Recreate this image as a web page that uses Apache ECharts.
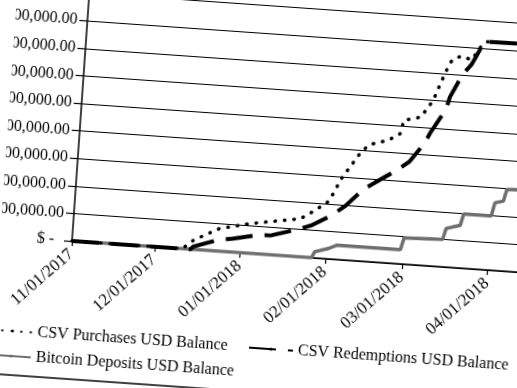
<!DOCTYPE html>
<html><head><meta charset="utf-8">
<script src="https://cdn.jsdelivr.net/npm/echarts@6/dist/echarts.min.js"></script>
<style>
html,body{margin:0;padding:0;width:517px;height:388px;overflow:hidden;background:#fff;}
#chart{position:absolute;left:0;top:-60px;width:700px;height:520px;transform-origin:72px 301px;transform:rotate(4deg);}
</style></head><body><div id="chart"></div>
<script>
// Values in millions of USD
const purchaseDates = ['2017-11-01','2017-12-11','2017-12-15','2017-12-24','2018-01-04','2018-01-22','2018-01-27','2018-02-01','2018-02-05','2018-02-11','2018-02-14','2018-02-21','2018-02-25','2018-02-26','2018-03-04','2018-03-06','2018-03-08','2018-03-12','2018-03-14','2018-03-17','2018-03-21','2018-03-24','2018-03-26','2018-04-15'];
const purchaseValues = [0,0,0.34,0.82,1.08,1.38,1.71,2.10,2.96,3.90,4.23,4.45,4.71,5.20,5.36,5.67,5.98,7.09,7.52,7.66,7.56,8.06,8.25,8.27];

const redemptionDates = ['2017-11-01','2017-12-14','2017-12-15','2017-12-24','2017-12-29','2018-01-07','2018-01-12','2018-01-20','2018-01-26','2018-02-02','2018-02-07','2018-02-13','2018-02-17','2018-02-25','2018-03-01','2018-03-06','2018-03-08','2018-03-13','2018-03-14','2018-03-18','2018-03-21','2018-03-24','2018-03-26','2018-04-15'];
const redemptionValues = [0,0,0.10,0.42,0.49,0.68,0.71,0.95,1.16,1.57,1.96,2.60,2.87,3.40,3.72,4.42,4.85,5.72,6.15,7.00,7.38,8.00,8.25,8.27];

const bitcoinDates = ['2017-11-01','2018-01-27','2018-01-28','2018-02-02','2018-02-05','2018-02-28','2018-03-01','2018-03-15','2018-03-16','2018-03-21','2018-03-22','2018-04-01','2018-04-02','2018-04-05','2018-04-06','2018-04-15'];
const bitcoinValues = [0,0,0.22,0.38,0.52,0.52,0.95,1.00,1.40,1.55,1.97,1.97,2.45,2.53,2.96,3.00];

const yTickLabels = ['$ -  ','$ 1,000,000.00','$ 2,000,000.00','$ 3,000,000.00','$ 4,000,000.00','$ 5,000,000.00','$ 6,000,000.00','$ 7,000,000.00','$ 8,000,000.00','$ 9,000,000.00','$ 10,000,000.00'];
const seriesNames = ['CSV Purchases USD Balance','CSV Redemptions USD Balance','Bitcoin Deposits USD Balance'];

const zip = (d, v) => d.map((x, i) => [x, v[i]]);
const font = 'Liberation Serif';
const dotsIcon = 'path://M0 0h3.5v3.5H0z M9 0h3.5v3.5H9z M18 0h3.5v3.5H18z M27 0h3.5v3.5H27z M36.5 0h3.5v3.5H36.5z';
const dashIcon = 'path://M0 0h27v4H0z M39 0h5v4H39z';
const solidIcon = 'path://M0 0h40v4H0z';
const legendText = {fontSize: 16, fontFamily: font, color: '#000'};
const chart = echarts.init(document.getElementById('chart'), null, {renderer: 'canvas'});
chart.setOption({
  animation: false,
  backgroundColor: 'transparent',
  textStyle: {fontFamily: font, color: '#000'},
  grid: {left: 72, top: 25, width: 491, height: 276, containLabel: false, outerBoundsMode: 'none'},
  xAxis: {
    type: 'time', min: '2017-11-01', max: '2018-04-28',
    minInterval: 28 * 86400000, maxInterval: 31 * 86400000,
    axisLine: {lineStyle: {color: '#000', width: 1.5}},
    axisTick: {show: true, length: 5, lineStyle: {color: '#000', width: 1.2}},
    splitLine: {show: false},
    axisLabel: {rotate: 45, margin: 11, fontSize: 17, fontFamily: font, color: '#000', formatter: '{MM}/{dd}/{yyyy}', hideOverlap: false, showMaxLabel: false}
  },
  yAxis: {
    type: 'value', min: 0, max: 10, interval: 1,
    axisLine: {show: true, lineStyle: {color: '#000', width: 1.5}},
    axisTick: {show: true, length: 8, lineStyle: {color: '#000', width: 1.2}},
    splitLine: {show: true, lineStyle: {color: '#000', width: 1.2}},
    axisLabel: {margin: 10, fontSize: 16, fontFamily: font, color: '#000', formatter: v => yTickLabels[Math.round(v)]}
  },
  legend: [
    {data: [seriesNames[0]], left: -7, top: 382, itemWidth: 40, itemHeight: 3.5, textStyle: legendText},
    {data: [seriesNames[1]], left: 250, top: 382, itemWidth: 44, itemHeight: 4, textStyle: legendText},
    {data: [seriesNames[2]], left: -7, top: 407, itemWidth: 40, itemHeight: 4, textStyle: legendText}
  ],
  graphic: [{type: 'line', shape: {x1: -60, y1: 439, x2: 700, y2: 439}, style: {stroke: '#000', lineWidth: 1.5}}],
  series: [
    {name: seriesNames[2], type: 'line', symbol: 'none', z: 2, legendIcon: solidIcon, data: zip(bitcoinDates, bitcoinValues),
      lineStyle: {color: '#6e6e6e', width: 3.5}, itemStyle: {color: '#6e6e6e'}},
    {name: seriesNames[1], type: 'line', symbol: 'none', z: 3, legendIcon: dashIcon, data: zip(redemptionDates, redemptionValues),
      lineStyle: {color: '#000', width: 4, type: [27, 12]}, itemStyle: {color: '#000'}},
    {name: seriesNames[0], type: 'line', symbol: 'none', z: 4, legendIcon: dotsIcon, data: zip(purchaseDates, purchaseValues),
      lineStyle: {color: '#000', width: 3.5, type: [0.5, 9], cap: 'round'}, itemStyle: {color: '#000'}}
  ]
});
</script></body></html>
